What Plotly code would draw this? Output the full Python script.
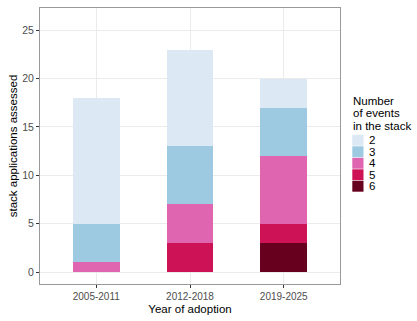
import plotly.graph_objects as go

categories = ["2005-2011", "2012-2018", "2019-2025"]
events = ["6", "5", "4", "3", "2"]
counts = {
    "2": [13, 10, 3],
    "3": [4, 6, 5],
    "4": [1, 4, 7],
    "5": [0, 3, 2],
    "6": [0, 0, 3],
}
colors = {"2": "#dce8f4", "3": "#9ecae1", "4": "#df65b0", "5": "#ce1256", "6": "#67001f"}
y_ticks = [0, 5, 10, 15, 20, 25]
legend_title = ["Number", "of events", "in the stack"]

W, H = 417, 321
ML, MR, MT, MB = 40, 77, 8, 37
PW, PH = W - ML - MR, H - MT - MB


def px(x):
    return (x - ML) / PW


def py(y):
    return (H - MB - y) / PH


fig = go.Figure()
for e in events:
    fig.add_trace(go.Bar(
        x=categories, y=counts[e], name=e,
        marker=dict(color=colors[e], line=dict(width=0)),
        width=0.5, showlegend=False,
    ))

font = "Liberation Sans, Arial, sans-serif"

# legend (drawn manually to match compact ggplot key spacing)
shapes = []
annotations = []
for i, line in enumerate(legend_title):
    annotations.append(dict(
        xref="paper", yref="paper", x=px(351), y=py(100.7 + 12.7 * i),
        xanchor="left", yanchor="middle", showarrow=False, text=line,
        font=dict(size=11.5, color="black", family=font),
    ))
key_top = 134.5
key_h = 11.5
for i, e in enumerate(reversed(events)):
    y0 = key_top + key_h * i
    shapes.append(dict(
        type="rect", xref="paper", yref="paper",
        x0=px(352.3), x1=px(363.5), y0=py(y0 + 0.3), y1=py(y0 + key_h - 0.3),
        fillcolor=colors[e], line=dict(width=0),
    ))
    annotations.append(dict(
        xref="paper", yref="paper", x=px(366.5), y=py(y0 + key_h / 2),
        xanchor="left", yanchor="middle", showarrow=False, text=e,
        font=dict(size=11.5, color="black", family=font),
    ))

fig.update_layout(
    width=W, height=H,
    barmode="stack",
    plot_bgcolor="white", paper_bgcolor="white",
    margin=dict(l=ML, r=MR, t=MT, b=MB),
    font=dict(family=font, color="black"),
    showlegend=False,
    shapes=shapes,
    annotations=annotations,
    xaxis=dict(
        title=dict(text="Year of adoption", font=dict(size=11.5, color="black"), standoff=3),
        range=[-0.6, 2.6], showgrid=True, gridcolor="#ebebeb", gridwidth=1,
        ticks="outside", ticklen=3, tickcolor="#333333",
        tickfont=dict(size=10, color="#4d4d4d"),
        showline=True, linecolor="#999999", mirror=True, linewidth=1,
        zeroline=False,
    ),
    yaxis=dict(
        title=dict(text="stack applications assessed", font=dict(size=11.5, color="black"), standoff=2),
        range=[-1.24, 27.3], tickvals=y_ticks, showgrid=True, gridcolor="#ebebeb", gridwidth=1,
        ticks="outside", ticklen=3, tickcolor="#333333",
        tickfont=dict(size=10.5, color="#4d4d4d"),
        showline=True, linecolor="#999999", mirror=True, linewidth=1,
        zeroline=False,
    ),
    bargap=0,
)
fig.write_html("out.html")
